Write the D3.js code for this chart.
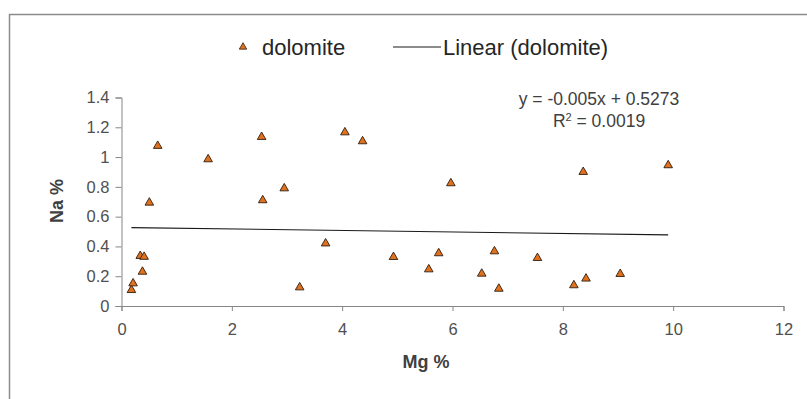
<!DOCTYPE html>
<html>
<head>
<meta charset="utf-8">
<script src="https://cdn.jsdelivr.net/npm/d3@7"></script>
<style>
  html, body { margin: 0; padding: 0; background: #fff; }
  svg { display: block; font-family: "Liberation Sans", Arial, sans-serif; }
</style>
</head>
<body>
<svg id="chart" width="807" height="399"></svg>
<script>
// Dolomite samples: Mg % (x) against Na % (y)
const mgPct = [0.18, 0.21, 0.38, 0.34, 0.41, 0.505, 0.656, 1.57, 2.54, 2.56, 2.95, 3.23, 3.70,
               4.05, 4.37, 5.97, 8.37, 4.93, 5.75, 5.57, 6.76, 6.53, 6.84, 7.54, 8.20, 8.42,
               9.91, 9.04];
const naPct = [0.107, 0.152, 0.23, 0.336, 0.33, 0.694, 1.075, 0.985, 1.135, 0.71, 0.79, 0.125, 0.42,
               1.166, 1.106, 0.824, 0.90, 0.329, 0.354, 0.246, 0.367, 0.217, 0.116, 0.322, 0.139, 0.184,
               0.945, 0.215];

// Linear trend fitted to the series
const trendSlope = -0.005;
const trendIntercept = 0.5273;
const trendR2 = "0.0019";

const xTicks = [0, 2, 4, 6, 8, 10, 12];
const yTicks = [0, 0.2, 0.4, 0.6, 0.8, 1, 1.2, 1.4];

const svg = d3.select("#chart");

// chart area frame (open to the right and bottom)
svg.append("path")
  .attr("d", "M9.5,399 V14.5 H807")
  .attr("fill", "none")
  .attr("stroke", "#8c8c8c")
  .attr("stroke-width", 1.5);

const x = d3.scaleLinear().domain([0, 12]).range([121.5, 783.5]);
const y = d3.scaleLinear().domain([0, 1.4]).range([306, 97.5]);

const axisColor = "#868686";
const labelColor = "#505050";

// x axis
const gx = svg.append("g")
  .attr("transform", `translate(0,${y(0)})`)
  .call(d3.axisBottom(x).tickValues(xTicks).tickSize(5).tickPadding(12).tickFormat(d3.format("d")));
gx.select(".domain").attr("stroke", axisColor).attr("stroke-width", 1);
gx.selectAll(".tick line").attr("stroke", axisColor);
gx.selectAll(".tick text")
  .attr("fill", labelColor)
  .style("font-size", "16.5px")
  .style("font-family", "'Liberation Sans', Arial, sans-serif");

// y axis
const gy = svg.append("g")
  .attr("transform", `translate(${x(0)},0)`)
  .call(d3.axisLeft(y).tickValues(yTicks).tickSize(6).tickPadding(6).tickFormat(d => d3.format("")(+d.toFixed(1))));
gy.select(".domain").attr("stroke", axisColor).attr("stroke-width", 1);
gy.selectAll(".tick line").attr("stroke", axisColor);
gy.selectAll(".tick text")
  .attr("fill", labelColor)
  .style("font-size", "16.5px")
  .style("font-family", "'Liberation Sans', Arial, sans-serif");

// axis titles
svg.append("text")
  .attr("x", 426).attr("y", 368)
  .attr("text-anchor", "middle")
  .attr("font-weight", "bold")
  .attr("font-size", 18)
  .attr("fill", "#404040")
  .text("Mg %");

svg.append("text")
  .attr("transform", "translate(63,201) rotate(-90)")
  .attr("text-anchor", "middle")
  .attr("font-weight", "bold")
  .attr("font-size", 18)
  .attr("fill", "#404040")
  .text("Na %");

// trend line across the sampled Mg range
const [xMin, xMax] = d3.extent(mgPct);
const trend = d3.line().x(d => x(d)).y(d => y(trendIntercept + trendSlope * d));
svg.append("path")
  .attr("d", trend([xMin, xMax]))
  .attr("fill", "none")
  .attr("stroke", "#1a1a1a")
  .attr("stroke-width", 1.1);

// markers
const tri = d3.symbol().type(d3.symbolTriangle).size(32);
const markerFill = "#E2711D";
const markerStroke = "#2e1d10";
svg.append("g")
  .selectAll("path")
  .data(d3.zip(mgPct, naPct))
  .join("path")
  .attr("transform", d => `translate(${x(d[0])},${y(d[1])})`)
  .attr("d", tri)
  .attr("fill", markerFill)
  .attr("stroke", markerStroke)
  .attr("stroke-width", 0.9);

// equation and R²
svg.append("text")
  .attr("x", 599).attr("y", 105)
  .attr("text-anchor", "middle")
  .attr("font-size", 17.5)
  .attr("fill", "#404040")
  .text(`y = ${trendSlope}x + ${trendIntercept}`);
const r2 = svg.append("text")
  .attr("x", 599).attr("y", 127)
  .attr("text-anchor", "middle")
  .attr("font-size", 17.5)
  .attr("fill", "#404040");
r2.append("tspan").text("R");
r2.append("tspan").attr("dy", -6).attr("font-size", 11).text("2");
r2.append("tspan").attr("dy", 6).text(` = ${trendR2}`);

// legend
const legend = svg.append("g");
legend.append("path")
  .attr("transform", "translate(243,47)")
  .attr("d", d3.symbol().type(d3.symbolTriangle).size(24))
  .attr("fill", markerFill)
  .attr("stroke", markerStroke)
  .attr("stroke-width", 0.8);
legend.append("text")
  .attr("x", 262).attr("y", 55)
  .attr("font-size", 22)
  .attr("fill", "#262626")
  .text("dolomite");
legend.append("line")
  .attr("x1", 393).attr("x2", 441)
  .attr("y1", 47).attr("y2", 47)
  .attr("stroke", "#1a1a1a")
  .attr("stroke-width", 1.1);
legend.append("text")
  .attr("x", 443).attr("y", 55)
  .attr("font-size", 22)
  .attr("fill", "#262626")
  .text("Linear (dolomite)");
</script>
</body>
</html>
